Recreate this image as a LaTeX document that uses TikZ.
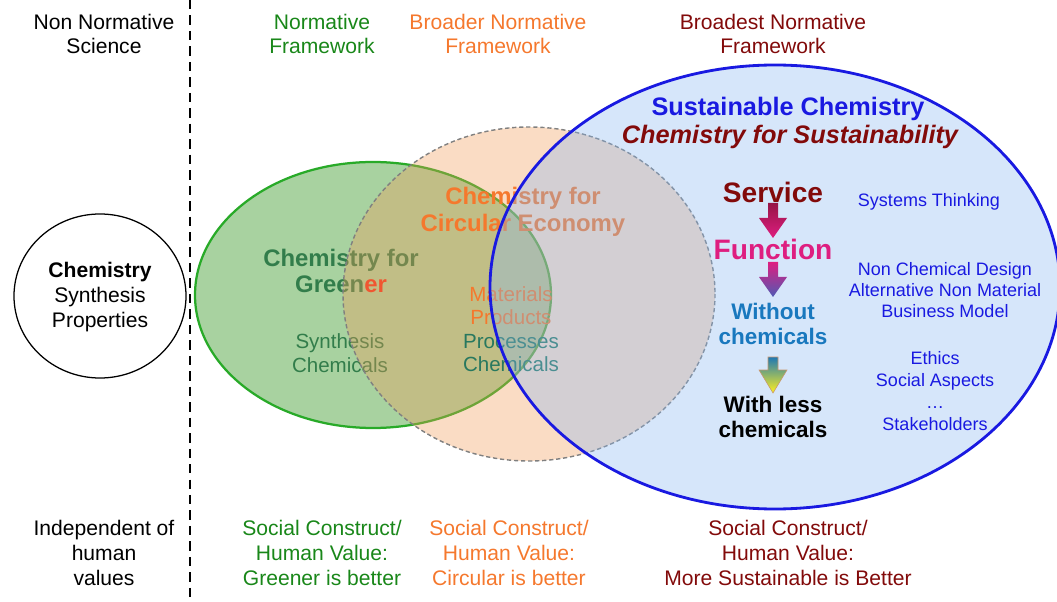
\documentclass[tikz,border=0pt]{standalone}
\usepackage{fontspec}
\setmainfont{Liberation Sans}

\definecolor{normgreen}{RGB}{25,135,25}
\definecolor{circorange}{RGB}{245,120,45}
\definecolor{sustred}{RGB}{130,10,10}
\definecolor{sustblue}{RGB}{25,25,225}
\definecolor{greenfill}{RGB}{81,165,65}
\definecolor{greenline}{RGB}{40,170,40}
\definecolor{orangefill}{RGB}{241,155,86}
\definecolor{bluefill}{RGB}{138,184,241}
\definecolor{greentext}{RGB}{50,125,75}
\definecolor{proctext}{RGB}{40,120,95}
\definecolor{funcmagenta}{RGB}{222,30,128}
\definecolor{withoutblue}{RGB}{25,120,190}

\tikzset{
  heading/.style={align=center, inner sep=0pt, font=\fontsize{15}{17.7}\selectfont},
  innertitle/.style={align=center, inner sep=0pt, font=\bfseries\fontsize{17}{19}\selectfont},
  innertext/.style={align=center, inner sep=0pt, font=\fontsize{14.6}{16.6}\selectfont},
  flowtext/.style={align=center, inner sep=0pt, font=\bfseries\fontsize{20}{22}\selectfont},
  flowsmall/.style={align=center, inner sep=0pt, font=\bfseries\fontsize{16}{17.7}\selectfont},
  sidetext/.style={align=center, inner sep=0pt, text=sustblue, font=\fontsize{12.8}{14.8}\selectfont}
}

\begin{document}
\begin{tikzpicture}[x=0.025cm, y=-0.025cm]
  \useasboundingbox (0,0) rectangle (1057,602);

  % science side
  \draw[line width=2pt, dash pattern=on 6.7pt off 4.3pt] (190,0) -- (190,602);
  \node (nonnorm) [heading] at (104,34) {Non Normative\\Science};
  \node (indep) [heading] at (104,553) {Independent of\\human\\values};
  \draw[line width=0.9pt] (100,296) ellipse [x radius=86, y radius=82];
  \node (chem) [heading] at (100,297) {\textbf{Chemistry}\\Synthesis\\Properties};

  % headings of the frameworks
  \node (normfw) [heading, text=normgreen] at (322,34) {Normative\\Framework};
  \node (broadfw) [heading, text=circorange] at (498,34) {Broader Normative\\Framework};
  \node (broadestfw) [heading, text=sustred] at (773,34) {Broadest Normative\\Framework};

  \node (greenval) [heading, text=normgreen] at (322,553) {Social Construct/\\Human Value:\\Greener is better};
  \node (circval) [heading, text=circorange] at (509,553) {Social Construct/\\Human Value:\\Circular is better};
  \node (sustval) [heading, text=sustred] at (788,553) {Social Construct/\\Human Value:\\More Sustainable is Better};

  % greener
  \fill[greenfill, fill opacity=0.5] (373,295) ellipse [x radius=178, y radius=133];
  \draw[greenline, line width=1.6pt] (373,295) ellipse [x radius=178, y radius=133];
  \node (greener) [innertitle, text=greentext] at (341,271) {Chemistry for\\Green\textcolor[RGB]{240,50,30}{er}};
  \node (synth) [innertext, text=greentext] at (340,353) {Synthesis\\Chemicals};

  % circular
  \fill[orangefill, fill opacity=0.35] (529,294) ellipse [x radius=186, y radius=167];
  \draw[gray, line width=1pt, dash pattern=on 3pt off 2pt] (529,294) ellipse [x radius=186, y radius=167];
  \node (circular) [innertitle, text=circorange] at (523,212) {Chemistry for\\Circular Economy};
  \node (matproc) [innertext] at (511,329) {\textcolor{circorange}{Materials}\\\textcolor{circorange}{Products}\\\textcolor{proctext}{Processes}\\\textcolor{proctext}{Chemicals}};

  % sustainable
  \fill[bluefill, fill opacity=0.35] (775,287) ellipse [x radius=285, y radius=222];
  \draw[sustblue, line width=2pt] (775,287) ellipse [x radius=285, y radius=222];
  \node (sustchem) [innertitle, font=\bfseries\fontsize{18}{20}\selectfont, text=sustblue] at (788,109) {Sustainable Chemistry};
  \node (forsust) [innertitle, font=\bfseries\itshape\fontsize{18}{20}\selectfont, text=sustred] at (790,137) {Chemistry for Sustainability};

  \node (service) [flowtext, text=sustred] at (773,192) {Service};
  \node (function) [flowtext, text=funcmagenta] at (773,249) {Function};
  \node (without) [flowsmall, text=withoutblue] at (773,324) {Without\\chemicals};
  \node (withless) [flowsmall] at (773,417) {With less\\chemicals};

  \coordinate (arr1) at (773,203);
  \coordinate (arr2) at (773,262);
  \coordinate (arr3) at (773,357);
  \shade[shift={(arr1)}, top color={rgb,255:red,150;green,20;blue,70}, bottom color=funcmagenta]
    (-5,0) -- (5,0) -- (5,15) -- (14,15) -- (0,35) -- (-14,15) -- (-5,15) -- cycle;
  \shade[shift={(arr2)}, top color=funcmagenta, middle color={rgb,255:red,190;green,40;blue,140}, bottom color={rgb,255:red,80;green,90;blue,180}]
    (-5,0) -- (5,0) -- (5,15) -- (14,15) -- (0,35) -- (-14,15) -- (-5,15) -- cycle;
  \shade[shift={(arr3)}, draw={rgb,255:red,200;green,150;blue,110}, line width=0.4pt, top color={rgb,255:red,30;green,120;blue,180}, bottom color={rgb,255:red,255;green,240;blue,30}]
    (-5,0) -- (5,0) -- (5,13) -- (14,13) -- (0,36) -- (-14,13) -- (-5,13) -- cycle;

  \node (systems) [sidetext] at (929,202) {Systems Thinking};
  \node (nonchem) [sidetext] at (945,290) {Non Chemical Design\\Alternative Non Material\\Business Model};
  \node (ethics) [sidetext, font=\fontsize{12.8}{15.6}\selectfont] at (935,391) {Ethics\\Social Aspects\\\dots\\Stakeholders};
\end{tikzpicture}
\end{document}
